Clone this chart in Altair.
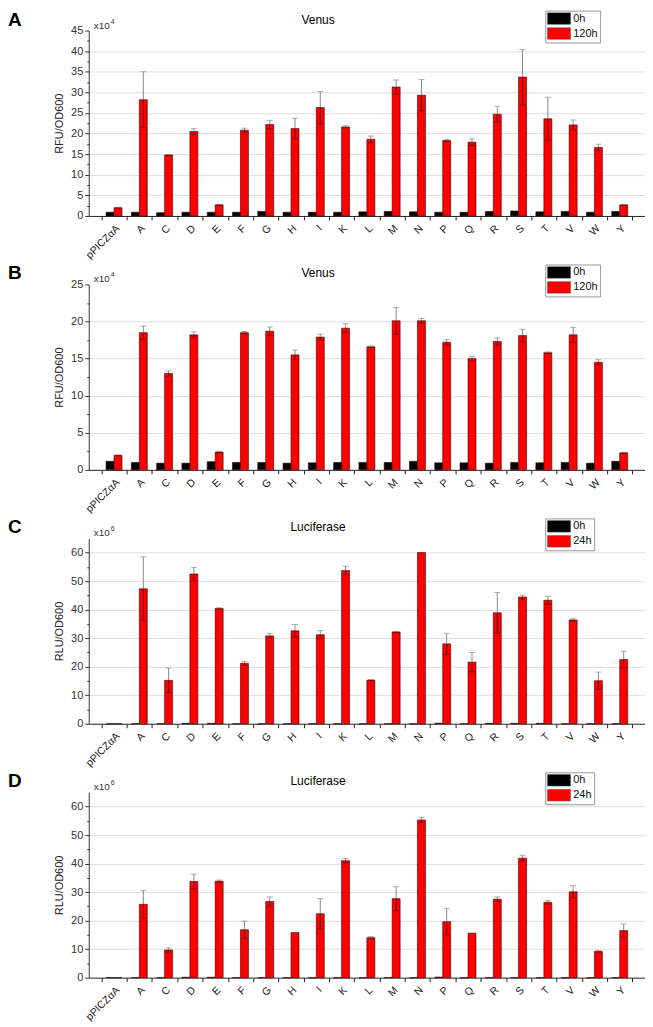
import altair as alt
import pandas as pd

FONT = "Arial, Liberation Sans, sans-serif"

cats = ["pPICZαA", "A", "C", "D", "E", "F", "G", "H", "I", "K", "L",
        "M", "N", "P", "Q", "R", "S", "T", "V", "W", "Y"]

# Panel A: Venus (x10^4)
a_0h = [0.9, 0.9, 0.8, 0.9, 0.9, 0.9, 1.1, 0.9, 0.9, 0.9, 1.0,
        1.1, 1.0, 0.9, 0.9, 1.1, 1.2, 1.0, 1.1, 0.9, 1.1]
a_120h = [2.0, 28.2, 14.8, 20.5, 2.7, 20.8, 22.2, 21.2, 26.3, 21.6, 18.6,
          31.3, 29.3, 18.3, 17.9, 24.7, 33.7, 23.6, 22.1, 16.6, 2.7]
a_120h_err = [0.1, 6.8, 0.1, 0.7, 0.1, 0.5, 1.0, 2.5, 3.9, 0.3, 0.8,
              1.7, 3.8, 0.3, 0.8, 1.9, 6.7, 5.2, 1.2, 0.8, 0.1]

# Panel B: Venus (x10^4)
b_0h = [1.15, 1.0, 0.9, 0.9, 1.1, 1.0, 1.0, 0.9, 0.95, 1.0, 1.0,
        1.0, 1.15, 0.95, 0.95, 0.9, 1.0, 0.95, 1.0, 0.9, 1.15]
b_120h = [1.95, 18.5, 13.0, 18.2, 2.4, 18.5, 18.7, 15.5, 17.9, 19.1, 16.6,
          20.1, 20.1, 17.2, 15.0, 17.3, 18.1, 15.8, 18.2, 14.5, 2.3]
b_120h_err = [0.05, 0.9, 0.35, 0.4, 0.1, 0.15, 0.55, 0.65, 0.4, 0.6, 0.1,
              1.8, 0.3, 0.35, 0.3, 0.5, 0.85, 0.1, 1.0, 0.35, 0.05]

# Panel C: Luciferase (x10^6)
c_0h = [0, 0, 0, 0.15, 0.15, 0, 0, 0, 0, 0, 0,
        0, 0, 0.2, 0, 0.15, 0.15, 0.15, 0, 0, 0]
c_24h = [0, 47.3, 15.2, 52.5, 40.4, 21.2, 30.8, 32.6, 31.2, 53.7, 15.3,
         32.2, 60.0, 28.0, 21.6, 38.9, 44.4, 43.3, 36.4, 15.1, 22.5]
c_24h_err = [0, 11.2, 4.3, 2.3, 0.3, 0.7, 0.8, 2.2, 1.4, 1.5, 0.2,
             0.2, 0, 3.7, 3.4, 7.1, 0.7, 1.4, 0.4, 3.0, 2.9]

# Panel D: Luciferase (x10^6)
d_0h = [0, 0, 0, 0.15, 0.15, 0, 0, 0, 0, 0, 0,
        0, 0, 0.2, 0, 0, 0, 0, 0, 0, 0]
d_24h = [0, 25.7, 9.7, 33.7, 33.8, 16.8, 26.7, 15.8, 22.4, 41.0, 14.0,
         27.7, 55.3, 19.6, 15.6, 27.5, 41.9, 26.4, 30.1, 9.2, 16.5]
d_24h_err = [0, 4.9, 0.7, 2.6, 0.4, 3.0, 1.6, 0, 5.3, 0.8, 0.4,
             4.2, 0.9, 4.6, 0, 0.8, 1.0, 0.6, 2.1, 0.3, 2.3]

W, H = 558, 186


def panel(letter, title, ytitle, expo, v0, v1, err1, lab1, ymax, top_tick, minor, major):
    rows = []
    for i, c in enumerate(cats):
        rows.append({"cat": c, "series": "0h", "value": v0[i], "err": 0.0})
        rows.append({"cat": c, "series": lab1, "value": v1[i], "err": err1[i]})
    df = pd.DataFrame(rows)
    df["lo"] = df["value"] - df["err"]
    df["hi"] = df["value"] + df["err"]
    series_dom = ["0h", lab1]

    n = int(round(top_tick / minor))
    tick_vals = [round(i * minor, 4) for i in range(n + 1)]

    x_enc = alt.X("cat:N", sort=cats, title=None,
                  scale=alt.Scale(domain=cats, paddingInner=0, paddingOuter=0.5),
                  axis=alt.Axis(labelAngle=315, labelFontSize=10.5, labelColor="#222",
                                labelFont=FONT, tickBand="extent", tickSize=4,
                                tickColor="#222", domainColor="#222", labelPadding=3,
                                grid=False))
    xo_enc = alt.XOffset("series:N", sort=series_dom,
                         scale=alt.Scale(domain=series_dom, paddingInner=0, paddingOuter=0.585))
    y_scale = alt.Scale(domain=[0, ymax], nice=False, zero=True)
    y_axis = alt.Axis(
        title=ytitle, titleFontSize=11, titleFontWeight="normal", titleFont=FONT,
        titleColor="#222", titlePadding=6,
        values=tick_vals, tickCount=200, labelOverlap=False, format="d",
        labelExpr=f"datum.value % {major} === 0 ? datum.label : ''",
        labelFontSize=11, labelColor="#333", labelFont=FONT, labelPadding=2,
        domainColor="#333", tickColor="#333",
        tickSize={"condition": {"test": f"datum.value % {major} === 0", "value": 4}, "value": 2},
        grid=True, gridColor="#dddddd", gridWidth=1,
        gridOpacity={"condition": {"test": f"datum.value % {major} === 0 && datum.value > 0 && datum.value < {ymax}", "value": 1}, "value": 0},
    )

    bars = alt.Chart(df).mark_bar(strokeWidth=0.6, stroke="#3a0000").encode(
        x=x_enc,
        xOffset=xo_enc,
        y=alt.Y("value:Q", scale=y_scale, axis=y_axis),
        color=alt.Color("series:N", sort=series_dom,
                        scale=alt.Scale(domain=series_dom, range=["#000000", "#ff0000"]),
                        legend=alt.Legend(title=None, orient="none", legendX=458, legendY=-20,
                                          symbolType="M-1,-1H3V1H-1Z",
                                          symbolSize=132, symbolStrokeWidth=0.5,
                                          symbolStrokeColor="#444",
                                          labelFontSize=11, labelFont=FONT, labelColor="#111",
                                          labelOffset=14, rowPadding=1, padding=2,
                                          strokeColor="#999", fillColor="#ffffff")),
    )

    edf = df[(df["series"] == lab1) & (df["err"] > 0)]
    whisk_up = alt.Chart(edf).mark_rule(color="#8a8a8a", strokeWidth=1).encode(
        x=alt.X("cat:N", sort=cats), xOffset=xo_enc,
        y=alt.Y("value:Q", scale=y_scale), y2="hi:Q")
    whisk_dn = alt.Chart(edf).mark_rule(color="#5a0000", strokeWidth=1).encode(
        x=alt.X("cat:N", sort=cats), xOffset=xo_enc,
        y=alt.Y("lo:Q", scale=y_scale), y2="value:Q")
    cap_hi = alt.Chart(edf).mark_tick(color="#8a8a8a", thickness=1, size=6).encode(
        x=alt.X("cat:N", sort=cats), xOffset=xo_enc, y=alt.Y("hi:Q", scale=y_scale))
    cap_lo = alt.Chart(edf).mark_tick(color="#5a0000", thickness=1, size=6).encode(
        x=alt.X("cat:N", sort=cats), xOffset=xo_enc, y=alt.Y("lo:Q", scale=y_scale))

    ann = pd.DataFrame({"letter": [letter], "base": ["x10"], "expo": [expo], "title": [title]})
    t_letter = alt.Chart(ann).mark_text(fontSize=19, fontWeight="bold", font=FONT,
                                        align="left", baseline="top", color="#000").encode(
        x=alt.value(-81), y=alt.value(-20), text="letter:N")
    t_title = alt.Chart(ann).mark_text(fontSize=12, font=FONT, align="center",
                                       baseline="middle", color="#000").encode(
        x=alt.value(230), y=alt.value(-11), text="title:N")
    t_base = alt.Chart(ann).mark_text(fontSize=10, font=FONT, align="left",
                                      baseline="alphabetic", color="#333").encode(
        x=alt.value(5), y=alt.value(-2), text="base:N")
    t_exp = alt.Chart(ann).mark_text(fontSize=7, font=FONT, align="left",
                                     baseline="alphabetic", color="#333").encode(
        x=alt.value(22), y=alt.value(-7), text="expo:N")

    return alt.layer(bars, whisk_up, whisk_dn, cap_hi, cap_lo,
                     t_letter, t_title, t_base, t_exp).properties(width=W, height=H)


pA = panel("A", "Venus", "RFU/OD600", "4", a_0h, a_120h, a_120h_err, "120h", 45, 45, 2.5, 5)
pB = panel("B", "Venus", "RFU/OD600", "4", b_0h, b_120h, b_120h_err, "120h", 25, 25, 2.5, 5)
pC = panel("C", "Luciferase", "RLU/OD600", "6", c_0h, c_24h, c_24h_err, "24h", 65, 60, 5, 10)
pD = panel("D", "Luciferase", "RLU/OD600", "6", d_0h, d_24h, d_24h_err, "24h", 65, 60, 5, 10)

chart = alt.vconcat(pA, pB, pC, pD, spacing=2.7).resolve_scale(
    color="independent", x="independent", y="independent", xOffset="independent"
).resolve_legend(color="independent").properties(
    padding=0, background="white"
).configure_view(stroke=None)

chart.save("out.html", embed_options={"renderer": "svg", "actions": False})
